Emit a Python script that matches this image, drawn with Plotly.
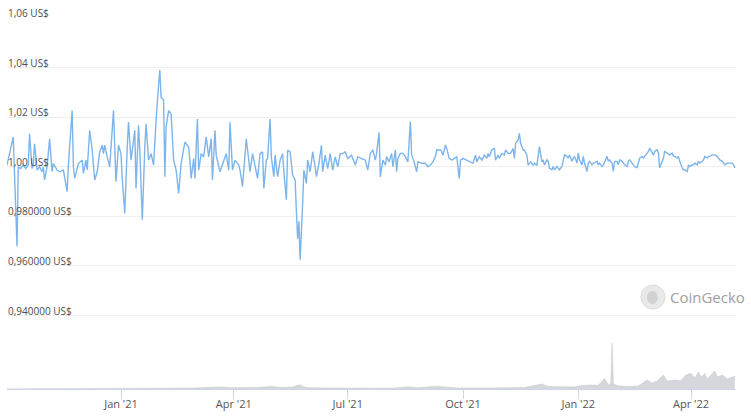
import pandas as pd
import plotly.graph_objects as go

start_date = pd.Timestamp("2020-10-02")

# Price observations: day offset from start_date, price in US$
price_days = [0, 5, 8, 9, 11, 13, 15, 17, 18, 20, 21, 22, 24, 26, 28, 29, 30, 32, 34, 36, 37, 40, 42, 45, 48, 49,
              52, 53, 54, 57, 60, 61, 63, 64, 66, 68, 70, 72, 74, 76, 77, 78, 80, 82, 85, 87, 89, 91, 92, 94, 96, 97,
              99, 101, 102, 103, 105, 106, 108, 110, 111, 113, 115, 117, 118, 119, 121, 122, 123, 125, 126, 127, 129,
              131, 133, 135, 137, 139, 142, 145, 146, 147, 149, 150, 152, 153, 155, 157, 159, 161, 163, 164, 166, 167,
              170, 173, 175, 177, 178, 180, 182, 185, 186, 188, 190, 191, 193, 194, 196, 198, 200, 202, 204, 205, 207,
              208, 210, 211, 213, 214, 216, 218, 220, 221, 223, 224, 226, 228, 230, 231, 232, 233, 234, 236, 237, 239,
              240, 242, 243, 244, 246, 247, 249, 251, 252, 254, 256, 258, 260, 262, 264, 266, 268, 270, 272, 275, 278,
              280, 283, 286, 288, 290, 292, 294, 295, 297, 298, 300, 302, 303, 305, 307, 308, 310, 311, 312, 314, 316,
              318, 320, 322, 323, 325, 327, 328, 331, 334, 336, 338, 340, 342, 343, 346, 347, 348, 350, 351, 353, 355,
              357, 359, 361, 362, 364, 367, 369, 372, 374, 375, 377, 379, 381, 383, 384, 385, 387, 389, 390, 392, 393,
              395, 397, 398, 400, 402, 404, 405, 406, 408, 409, 410, 412, 413, 415, 416, 418, 420, 421, 423, 425, 427,
              428, 429, 431, 432, 433, 435, 436, 437, 439, 440, 441, 443, 444, 445, 447, 448, 449, 451, 452, 453, 455,
              456, 457, 459, 460, 461, 463, 464, 465, 467, 468, 469, 471, 472, 473, 475, 476, 477, 479, 480, 481, 483,
              484, 485, 487, 488, 489, 491, 492, 493, 495, 496, 497, 499, 500, 501, 503, 504, 505, 507, 508, 509, 511,
              512, 513, 515, 516, 517, 519, 520, 521, 523, 524, 525, 527, 528, 529, 531, 532, 533, 535, 536, 537, 539,
              540, 541, 543, 544, 545, 547, 548, 549, 551, 552, 553, 555, 556, 557, 559, 560, 561, 563, 564, 565, 567,
              568, 569, 571, 572, 573, 575, 576, 577, 579, 580, 581]
prices = [1.0007, 1.012, 0.968, 1.000, 0.9993, 1.0007, 0.9993, 1.0007, 1.0133, 0.9993, 1.0007, 1.0093, 0.9987, 1.000,
          0.998, 1.000, 0.9947, 1.000, 1.0113, 0.998, 1.0013, 0.9987, 0.998, 0.9987, 0.990, 1.0007,
          1.0227, 1.000, 0.9953, 1.0013, 1.0027, 0.9973, 1.0027, 0.9987, 1.0147, 1.0067, 0.9947, 0.998, 1.006, 1.0087,
          1.0053, 1.0087, 1.004, 1.000, 1.0227, 0.994, 1.0087, 1.0053, 0.9953, 0.9813, 1.008, 1.018,
          1.0027, 1.0127, 1.0147, 0.9913, 1.0167, 1.0067, 0.9787, 1.008, 1.0173, 1.0027, 1.0053, 1.0007, 1.0133, 1.0187,
          1.033, 1.039, 1.028, 1.027, 0.996, 1.016, 1.0227,
          1.0213, 1.0027, 0.9987, 0.9893, 1.0013, 1.010, 1.008, 1.0027, 0.9953, 1.0033, 0.9953, 1.0193, 0.9987, 1.0053,
          1.004, 1.012, 1.004, 1.0113, 0.9947, 1.0147, 1.0047,
          0.998, 1.0027, 1.0053, 0.9987, 1.018, 0.9987, 1.0027, 1.0007, 0.9987, 0.992, 1.004, 1.0113, 1.0027, 0.998,
          1.0053, 1.000, 0.9953, 1.0053, 1.006, 0.9913, 1.0027,
          1.0033, 1.0193, 1.004, 0.996, 1.0047, 0.996, 1.0027, 1.0053, 0.998, 0.9867, 1.0067, 1.006, 0.9967, 0.9947,
          0.982, 0.971, 0.978, 0.9625, 0.9853, 0.9987, 0.9933,
          1.0027, 0.998, 1.0013, 1.006, 1.000, 0.996, 1.0013, 1.0087, 0.998, 1.0047, 0.9993, 1.0053, 0.9987, 1.004,
          1.000, 1.0053, 1.0053, 1.006, 1.0033, 1.0047, 1.0007,
          1.004, 1.0033, 1.0027, 0.9987, 1.0054, 1.0068, 1.0027, 1.0054, 1.0139, 0.9959, 1.0027, 1.0007, 1.0041, 1.002,
          1.0054, 1.000, 1.0068, 0.998, 1.0034, 1.0054, 1.0054,
          1.0041, 1.002, 1.0182, 1.0047, 1.002, 0.998, 1.002, 1.0014, 1.0014, 1.000, 1.0007, 1.002, 1.0041, 1.0068,
          1.0068, 1.0061, 1.0047, 1.0088, 1.0074, 1.0034, 1.0027,
          1.0034, 1.0041, 0.9953, 1.0027, 1.0034, 1.0027, 1.002, 1.0014, 1.0047, 1.002, 1.0041, 1.0027, 1.0047, 1.0034,
          1.0054, 1.0041, 1.0068, 1.0074, 1.0027, 1.0047, 1.0034,
          1.0054, 1.0047, 1.0068, 1.0054, 1.0054, 1.0074, 1.0034, 1.0095, 1.0108, 1.0135, 1.0095, 1.0068, 1.0068,
          1.0047, 1.0007, 1.002, 1.0007, 1.0014, 1.0007, 1.0081, 1.002,
          1.0028, 1.0008, 1.0028, 1.0022, 0.9995, 0.9988, 1.0001, 0.9988, 1.0001, 0.9995, 0.9988, 1.0001, 1.0028,
          1.0048, 1.0042, 1.0035, 1.0048, 1.0022, 1.0035, 1.0042, 1.0015,
          1.0055, 1.0028, 1.0008, 1.0042, 1.0015, 0.9981, 1.0015, 1.0022, 1.0008, 1.0015, 1.0015, 1.0022, 1.0008,
          1.0015, 1.0001, 1.0008, 1.0022, 1.0042, 1.0022, 1.0028, 1.0015,
          0.9981, 1.0022, 1.0022, 1.0008, 1.0028, 1.0022, 1.0015, 1.0008, 1.0001, 1.0022, 1.0028, 1.0015, 1.0008,
          1.0001, 0.9997, 1.0022, 1.0035, 1.0042, 1.0035, 1.0042, 1.0055,
          1.0062, 1.0075, 1.0055, 1.0048, 1.0062, 1.0069, 1.0055, 0.9995, 1.0022, 1.0035, 1.0062, 1.0055, 1.0048,
          1.0048, 1.0055, 1.0042, 1.0042, 1.0035, 1.0042, 1.0022, 0.9995,
          0.9988, 0.9988, 0.9981, 1.0008, 1.0001, 1.0008, 1.0008, 1.0015, 1.0008, 1.0022, 1.0015, 1.0022, 1.0028,
          1.0042, 1.0035, 1.0042, 1.0042, 1.0048, 1.0048, 1.0048, 1.0042,
          1.0035, 1.0028, 1.0022, 1.0015, 1.0008, 1.0015, 1.0015, 1.0017, 1.0015, 1.0008, 0.9995]

# Trading volume observations (arbitrary units, millions)
volume_days = [0, 40, 80, 110, 130, 150, 160, 170, 180, 190, 200, 210, 220, 228, 232, 234, 236, 240, 255, 270, 285,
               300, 309, 320, 328, 344, 349, 360, 373, 387, 400, 413, 427, 432, 443, 453, 459, 467, 472, 477, 480, 482,
               483, 484, 488, 496, 504, 511, 515, 519, 524, 527, 533, 538, 542, 546, 549, 552, 554, 557, 559, 565,
               567, 571, 575, 581]
volumes = [1, 1, 2, 6, 8, 10, 12, 20, 12, 12, 16, 24, 15, 20, 35, 42, 25, 12, 10, 8, 12,
           9, 8, 23, 12, 28, 20, 10, 8, 10, 12, 15, 50, 25, 22, 20, 35, 40, 35, 107, 40, 60,
           457, 50, 30, 25, 30, 90, 60, 80, 140, 80, 90, 85, 140, 157, 110, 170, 120, 155, 100, 180,
           120, 140, 100, 130]

y_tick_values = [0.94, 0.96, 0.98, 1.00, 1.02, 1.04, 1.06]
y_tick_labels = ["0,940000 US$", "0,960000 US$", "0,980000 US$", "1,00 US$", "1,02 US$", "1,04 US$", "1,06 US$"]
x_tick_values = ["2021-01-01", "2021-04-01", "2021-07-01", "2021-10-01", "2022-01-01", "2022-04-01"]
x_tick_labels = ["Jan '21", "Apr '21", "Jul '21", "Oct '21", "Jan '22", "Apr '22"]

price_dates = start_date + pd.to_timedelta(price_days, unit="D")
volume_dates = start_date + pd.to_timedelta(volume_days, unit="D")

fig = go.Figure()
fig.add_trace(go.Scatter(
    x=volume_dates, y=volumes, yaxis="y2", mode="lines", fill="tozeroy",
    line=dict(color="#c9cad2", width=0.6), fillcolor="#d6d7dd", hoverinfo="skip", showlegend=False))
fig.add_trace(go.Scatter(
    x=price_dates, y=prices, mode="lines",
    line=dict(color="#7cb5ec", width=1.4), showlegend=False))

annotations = []
for v, t in zip(y_tick_values, y_tick_labels):
    annotations.append(dict(
        x=0, xref="paper", y=v, yref="y", text=t, showarrow=False,
        xanchor="left", yanchor="bottom", xshift=-1, yshift=-4,
        font=dict(family="Open Sans", size=10, color="#4d4d4d")))
annotations.append(dict(
    x=0.907, xref="paper", y=0.248, yref="paper", text="CoinGecko", showarrow=False,
    xanchor="left", yanchor="middle", font=dict(family="Open Sans", size=15, color="#a0a0a0")))

fig.update_layout(
    width=751, height=418,
    margin=dict(l=7, r=15, t=18, b=29),
    paper_bgcolor="white", plot_bgcolor="white",
    font=dict(family="Open Sans", color="#666666"),
    xaxis=dict(
        type="date", range=["2020-10-02", "2022-05-06 22:00"],
        tickvals=x_tick_values, ticktext=x_tick_labels,
        ticks="outside", ticklen=9, tickcolor="#ccd6eb", tickwidth=1,
        ticklabelstandoff=-4,
        showline=True, linecolor="#ccd6eb", linewidth=1,
        showgrid=False, zeroline=False,
        tickfont=dict(family="Open Sans", size=11, color="#555555")),
    yaxis=dict(
        range=[0.9104, 1.06], tickvals=y_tick_values, showticklabels=False,
        showgrid=True, gridcolor="#efefef", gridwidth=1, zeroline=False, showline=False, ticks=""),
    yaxis2=dict(range=[0, 3710], overlaying="y", visible=False),
    annotations=annotations,
    shapes=[dict(
        type="circle", xref="paper", yref="paper", xsizemode="pixel", ysizemode="pixel",
        xanchor=0.886, yanchor=0.248, x0=-12, x1=12, y0=-12, y1=12,
        fillcolor="#e9e9e9", line=dict(color="#dcdcdc", width=1), layer="above"),
        dict(
        type="circle", xref="paper", yref="paper", xsizemode="pixel", ysizemode="pixel",
        xanchor=0.886, yanchor=0.248, x0=-6, x1=5, y0=-7, y1=6,
        fillcolor="#d2d2d2", line=dict(width=0), layer="above")],
)

fig.write_html("out.html", config={"displayModeBar": False},
               post_script="document.body.style.margin='0px';document.body.style.overflow='hidden';")
